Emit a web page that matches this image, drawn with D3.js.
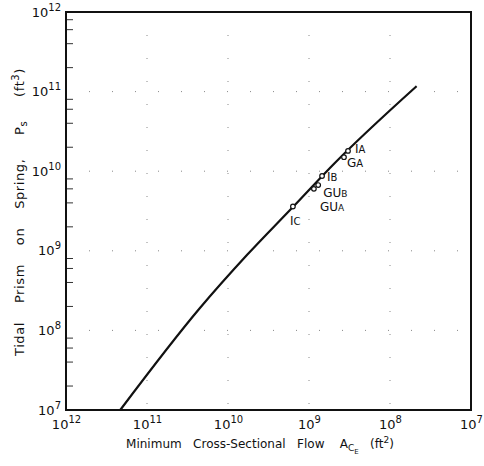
<!DOCTYPE html>
<html><head><meta charset="utf-8">
<script src="https://cdn.jsdelivr.net/npm/d3@7"></script>
<style>
html,body{margin:0;padding:0;background:#fff;}
svg{display:block;}
text{font-family:"DejaVu Sans","Liberation Sans",sans-serif;fill:#111;white-space:pre;}
</style></head>
<body><svg id="c" width="484" height="466"></svg>
<script>
// ---- data ----
const xTickExps = [12, 11, 10, 9, 8, 7];
const yTickExps = [12, 11, 10, 9, 8, 7];
const curveArea = [2.14e11, 2.22e10, 5.8e9, 1.58e9, 4.8e8, 4.7e7];
const curvePrism = [1.0e7, 1.91e8, 8.9e8, 3.55e9, 1.27e10, 1.17e11];
const pointNames = ["IA", "GA", "IB", "GUB", "GUA", "IC"];
const pointArea = [3.3e8, 3.7e8, 6.9e8, 7.7e8, 8.7e8, 1.58e9];
const pointPrism = [1.8e10, 1.5e10, 8.7e9, 6.7e9, 6.0e9, 3.6e9];

const svg = d3.select("#c");
const x = d3.scaleLog().domain([1e12, 1e7]).range([66, 471]);
const y = d3.scaleLog().domain([1e7, 1e12]).range([410, 12]);

// faint dotted grid
const g = svg.append("g");
xTickExps.slice(1, -1).forEach(e => {
  g.append("line").attr("x1", x(Math.pow(10, e))).attr("x2", x(Math.pow(10, e)))
   .attr("y1", y(1e12)).attr("y2", y(1e7))
   .attr("stroke", "#888").attr("stroke-width", 1).attr("stroke-dasharray", "1,22");
});
yTickExps.slice(1, -1).forEach(e => {
  g.append("line").attr("y1", y(Math.pow(10, e))).attr("y2", y(Math.pow(10, e)))
   .attr("x1", x(1e12)).attr("x2", x(1e7))
   .attr("stroke", "#888").attr("stroke-width", 1).attr("stroke-dasharray", "1,22");
});

// minor ticks inside left axis
const minors = [];
for (let e = 7; e < 12; e++) [2, 4, 6, 8].forEach(m => minors.push(m * Math.pow(10, e)));
svg.append("g").selectAll("line").data(minors).join("line")
  .attr("x1", x(1e12)).attr("x2", x(1e12) + 7)
  .attr("y1", d => y(d)).attr("y2", d => y(d))
  .attr("stroke", "#333").attr("stroke-width", 1);

// frame
svg.append("rect").attr("x", x(1e12)).attr("y", y(1e12))
  .attr("width", x(1e7) - x(1e12)).attr("height", y(1e7) - y(1e12))
  .attr("fill", "none").attr("stroke", "#111").attr("stroke-width", 2);

// axes via d3 axis with custom formatting
const xAxis = svg.append("g").attr("transform", `translate(0,${y(1e7)})`)
  .call(d3.axisBottom(x).tickValues(xTickExps.map(e => Math.pow(10, e))).tickSize(0).tickFormat(""));
xAxis.select(".domain").remove();
xAxis.selectAll(".tick").each(function(d) {
  const t = d3.select(this).append("text").attr("y", 19).attr("text-anchor", "middle")
    .attr("font-size", 13);
  t.append("tspan").text("10");
  t.append("tspan").attr("dy", -6).attr("font-size", 10).text(Math.round(Math.log10(d)));
});

const yAxis = svg.append("g").attr("transform", `translate(${x(1e12)},0)`)
  .call(d3.axisLeft(y).tickValues(yTickExps.map(e => Math.pow(10, e))).tickSize(0).tickFormat(""));
yAxis.select(".domain").remove();
yAxis.selectAll(".tick").each(function(d) {
  const t = d3.select(this).append("text").attr("x", -5).attr("y", 4).attr("text-anchor", "end")
    .attr("font-size", 13);
  t.append("tspan").text("10");
  t.append("tspan").attr("dy", -6).attr("font-size", 10).text(Math.round(Math.log10(d)));
});

// curve
const curveData = curveArea.map((a, i) => [a, curvePrism[i]]);
svg.append("path").datum(curveData)
  .attr("d", d3.line().x(d => x(d[0])).y(d => y(d[1])).curve(d3.curveMonotoneX))
  .attr("fill", "none").attr("stroke", "#111").attr("stroke-width", 2.2);

// points
const pts = pointNames.map((n, i) => ({ n, a: pointArea[i], p: pointPrism[i] }));
svg.append("g").selectAll("circle").data(pts).join("circle")
  .attr("cx", d => x(d.a)).attr("cy", d => y(d.p)).attr("r", 2.3)
  .attr("fill", "#fff").attr("stroke", "#111").attr("stroke-width", 1.2);

// point labels
const labelOff = { IA: [7, 2], GA: [3, 10], IB: [5, 5], GUB: [5, 12], GUA: [6, 22], IC: [-3, 18] };
pts.forEach(d => {
  const o = labelOff[d.n];
  const t = svg.append("text").attr("x", x(d.a) + o[0]).attr("y", y(d.p) + o[1])
    .attr("font-size", 12);
  if (d.n.startsWith("GU")) {
    t.append("tspan").text("GU");
    t.append("tspan").attr("font-size", 9).text(d.n.slice(2));
  } else {
    t.append("tspan").text(d.n[0]);
    t.append("tspan").attr("font-size", 10).text(d.n.slice(1));
  }
});

// axis titles
const xt = svg.append("text").attr("x", 260).attr("y", 448).attr("text-anchor", "middle")
  .attr("font-size", 12);
xt.append("tspan").text("Minimum   Cross-Sectional   Flow    A");
xt.append("tspan").attr("font-size", 9).attr("dy", 3).text("C");
xt.append("tspan").attr("font-size", 7).attr("dy", 3).text("E");
xt.append("tspan").attr("dy", -6).text("   (ft");
xt.append("tspan").attr("font-size", 9).attr("dy", -5).text("2");
xt.append("tspan").attr("dy", 5).text(")");

const yt = svg.append("text").attr("transform", "translate(24,212) rotate(-90)")
  .attr("text-anchor", "middle").attr("font-size", 13).attr("letter-spacing", 0.6);
yt.append("tspan").text("Tidal    Prism    on    Spring,     P");
yt.append("tspan").attr("font-size", 10).attr("dy", 3).text("s");
yt.append("tspan").attr("dy", -3).text("     (ft");
yt.append("tspan").attr("font-size", 10).attr("dy", -5).text("3");
yt.append("tspan").attr("dy", 5).text(")");
</script></body></html>
